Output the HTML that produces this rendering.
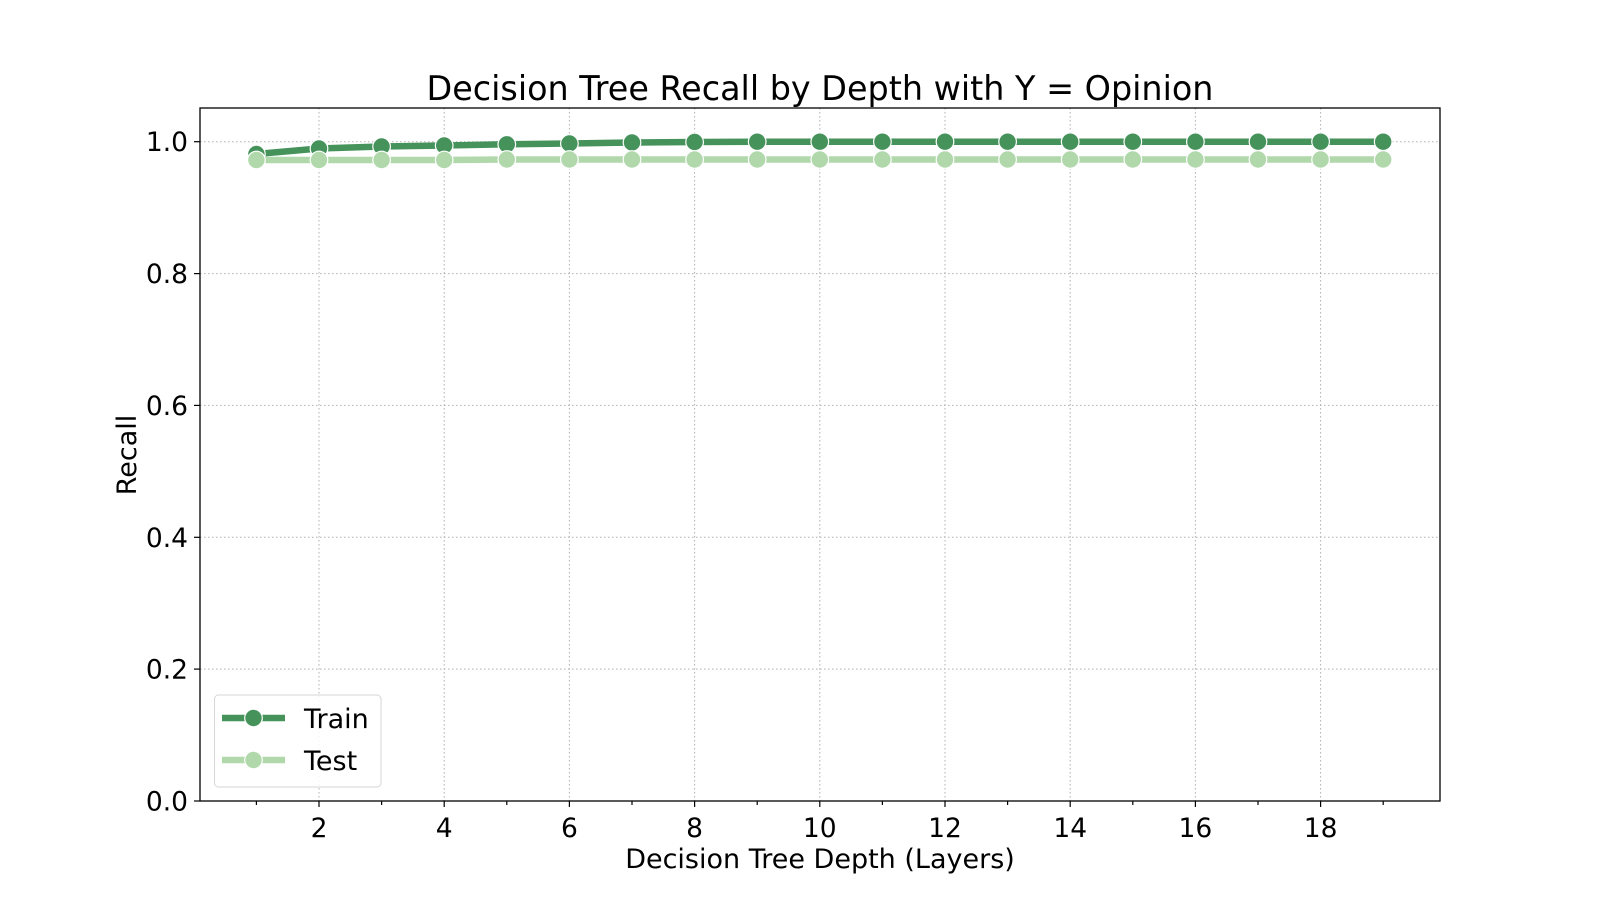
<!DOCTYPE html>
<html><head><meta charset="utf-8"><style>
html,body{margin:0;padding:0;background:#fff;}
svg{display:block;font-family:"DejaVu Sans","Liberation Sans",sans-serif;}
</style></head><body>
<svg width="1600" height="900" xmlns="http://www.w3.org/2000/svg">
<rect width="1600" height="900" fill="#fff"/>
<g stroke="#b0b0b0" stroke-width="1" stroke-dasharray="1.5,2.5">
<line x1="319" y1="108" x2="319" y2="801"/><line x1="444.2" y1="108" x2="444.2" y2="801"/>
<line x1="569.4" y1="108" x2="569.4" y2="801"/><line x1="694.6" y1="108" x2="694.6" y2="801"/>
<line x1="819.8" y1="108" x2="819.8" y2="801"/><line x1="945" y1="108" x2="945" y2="801"/>
<line x1="1070.2" y1="108" x2="1070.2" y2="801"/><line x1="1195.4" y1="108" x2="1195.4" y2="801"/>
<line x1="1320.6" y1="108" x2="1320.6" y2="801"/>
<line x1="200" y1="141.7" x2="1440" y2="141.7"/><line x1="200" y1="273.6" x2="1440" y2="273.6"/>
<line x1="200" y1="405.4" x2="1440" y2="405.4"/><line x1="200" y1="537.3" x2="1440" y2="537.3"/>
<line x1="200" y1="669.1" x2="1440" y2="669.1"/>
</g>
<polyline fill="none" stroke="#b0d8ab" stroke-width="6.5" points="256.4,160 319,160 381.6,160 444.2,160 506.8,159.5 569.4,159.5 632,159.5 694.6,159.5 757.2,159.5 819.8,159.5 882.4,159.5 945,159.5 1007.6,159.5 1070.2,159.5 1132.8,159.5 1195.4,159.5 1258,159.5 1320.6,159.5 1383.2,159.5"/>
<polyline fill="none" stroke="#45925a" stroke-width="6.5" points="256.4,154 319,148.5 381.6,146.5 444.2,145.5 506.8,144.3 569.4,143.5 632,142.5 694.6,142 757.2,141.7 819.8,141.7 882.4,141.7 945,141.7 1007.6,141.7 1070.2,141.7 1132.8,141.7 1195.4,141.7 1258,141.7 1320.6,141.7 1383.2,141.7"/>
<g fill="#45925a" stroke="#fff" stroke-width="1.2">
<circle cx="256.4" cy="154" r="8.8"/><circle cx="319" cy="148.5" r="8.8"/><circle cx="381.6" cy="146.5" r="8.8"/><circle cx="444.2" cy="145.5" r="8.8"/><circle cx="506.8" cy="144.3" r="8.8"/><circle cx="569.4" cy="143.5" r="8.8"/><circle cx="632" cy="142.5" r="8.8"/><circle cx="694.6" cy="142" r="8.8"/><circle cx="757.2" cy="141.7" r="8.8"/><circle cx="819.8" cy="141.7" r="8.8"/><circle cx="882.4" cy="141.7" r="8.8"/><circle cx="945" cy="141.7" r="8.8"/><circle cx="1007.6" cy="141.7" r="8.8"/><circle cx="1070.2" cy="141.7" r="8.8"/><circle cx="1132.8" cy="141.7" r="8.8"/><circle cx="1195.4" cy="141.7" r="8.8"/><circle cx="1258" cy="141.7" r="8.8"/><circle cx="1320.6" cy="141.7" r="8.8"/><circle cx="1383.2" cy="141.7" r="8.8"/>
</g>
<g fill="#b0d8ab" stroke="#fff" stroke-width="1.2">
<circle cx="256.4" cy="160" r="8.8"/><circle cx="319" cy="160" r="8.8"/><circle cx="381.6" cy="160" r="8.8"/><circle cx="444.2" cy="160" r="8.8"/><circle cx="506.8" cy="159.5" r="8.8"/><circle cx="569.4" cy="159.5" r="8.8"/><circle cx="632" cy="159.5" r="8.8"/><circle cx="694.6" cy="159.5" r="8.8"/><circle cx="757.2" cy="159.5" r="8.8"/><circle cx="819.8" cy="159.5" r="8.8"/><circle cx="882.4" cy="159.5" r="8.8"/><circle cx="945" cy="159.5" r="8.8"/><circle cx="1007.6" cy="159.5" r="8.8"/><circle cx="1070.2" cy="159.5" r="8.8"/><circle cx="1132.8" cy="159.5" r="8.8"/><circle cx="1195.4" cy="159.5" r="8.8"/><circle cx="1258" cy="159.5" r="8.8"/><circle cx="1320.6" cy="159.5" r="8.8"/><circle cx="1383.2" cy="159.5" r="8.8"/>
</g>
<rect x="200" y="108" width="1240" height="693" fill="none" stroke="#000" stroke-width="1.3"/>
<g stroke="#000" stroke-width="1.2">
<line x1="319" y1="801" x2="319" y2="807"/><line x1="444.2" y1="801" x2="444.2" y2="807"/><line x1="569.4" y1="801" x2="569.4" y2="807"/><line x1="694.6" y1="801" x2="694.6" y2="807"/><line x1="819.8" y1="801" x2="819.8" y2="807"/><line x1="945" y1="801" x2="945" y2="807"/><line x1="1070.2" y1="801" x2="1070.2" y2="807"/><line x1="1195.4" y1="801" x2="1195.4" y2="807"/><line x1="1320.6" y1="801" x2="1320.6" y2="807"/>
<line x1="256.4" y1="801" x2="256.4" y2="805"/><line x1="381.6" y1="801" x2="381.6" y2="805"/><line x1="506.8" y1="801" x2="506.8" y2="805"/><line x1="632" y1="801" x2="632" y2="805"/><line x1="757.2" y1="801" x2="757.2" y2="805"/><line x1="882.4" y1="801" x2="882.4" y2="805"/><line x1="1007.6" y1="801" x2="1007.6" y2="805"/><line x1="1132.8" y1="801" x2="1132.8" y2="805"/><line x1="1258" y1="801" x2="1258" y2="805"/><line x1="1383.2" y1="801" x2="1383.2" y2="805"/>
<line x1="194" y1="141.7" x2="200" y2="141.7"/><line x1="194" y1="273.6" x2="200" y2="273.6"/><line x1="194" y1="405.4" x2="200" y2="405.4"/><line x1="194" y1="537.3" x2="200" y2="537.3"/><line x1="194" y1="669.1" x2="200" y2="669.1"/><line x1="194" y1="801" x2="200" y2="801"/>
</g>
<g font-size="26.5" fill="#000" text-anchor="middle">
<text x="319" y="837">2</text><text x="444.2" y="837">4</text><text x="569.4" y="837">6</text><text x="694.6" y="837">8</text><text x="819.8" y="837">10</text><text x="945" y="837">12</text><text x="1070.2" y="837">14</text><text x="1195.4" y="837">16</text><text x="1320.6" y="837">18</text>
</g>
<g font-size="26.5" fill="#000" text-anchor="end">
<text x="188" y="151.2">1.0</text><text x="188" y="283.1">0.8</text><text x="188" y="414.9">0.6</text><text x="188" y="546.8">0.4</text><text x="188" y="678.6">0.2</text><text x="188" y="810.5">0.0</text>
</g>
<text x="820" y="868" font-size="27" text-anchor="middle">Decision Tree Depth (Layers)</text>
<text transform="translate(136,455) rotate(-90)" font-size="27" text-anchor="middle">Recall</text>
<text x="820" y="100" font-size="33.4" text-anchor="middle">Decision Tree Recall by Depth with Y = Opinion</text>
<rect x="214.5" y="695" width="166.5" height="92" rx="4" fill="#fff" fill-opacity="0.85" stroke="#d6d6d6" stroke-width="1"/>
<line x1="222" y1="718" x2="285" y2="718" stroke="#45925a" stroke-width="6.5"/>
<circle cx="253.5" cy="718" r="8.8" fill="#45925a" stroke="#fff" stroke-width="1.2"/>
<line x1="222" y1="760" x2="285" y2="760" stroke="#b0d8ab" stroke-width="6.5"/>
<circle cx="253.5" cy="760" r="8.8" fill="#b0d8ab" stroke="#fff" stroke-width="1.2"/>
<text x="304" y="728" font-size="27">Train</text>
<text x="304" y="770" font-size="27">Test</text>
</svg>
</body></html>
